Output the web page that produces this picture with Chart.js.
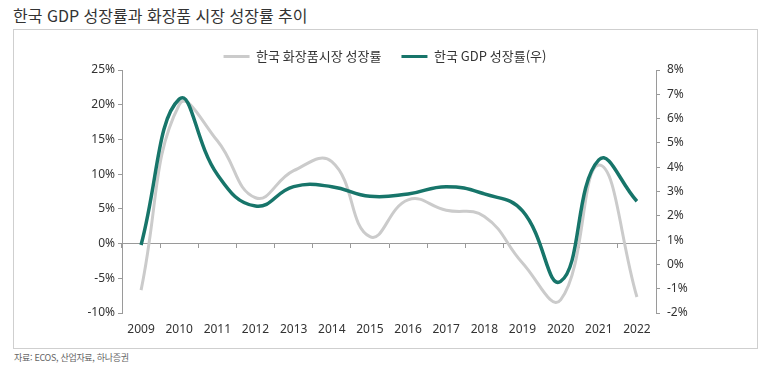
<!DOCTYPE html>
<html lang="ko">
<head>
<meta charset="utf-8">
<script src="https://cdn.jsdelivr.net/npm/chart.js@4"></script>
<style>
  body { margin: 0; background: #fff; }
  #wrap { position: relative; width: 773px; height: 375px; overflow: hidden; }
  #title { position: absolute; left: 13px; top: 3px; font: 16px "Noto Sans CJK KR", sans-serif; color: #333; white-space: nowrap; }
  #box { position: absolute; left: 13px; top: 29px; width: 743px; height: 318px; border: 1px solid #cfcfcf; }
  #source { position: absolute; left: 14px; top: 351px; font: 9px "Noto Sans CJK KR", sans-serif; color: #666; letter-spacing: -0.3px; white-space: nowrap; }
  #chart { position: absolute; left: 0; top: 0; }
</style>
</head>
<body>
<div id="wrap">
  <div id="title">한국 GDP 성장률과 화장품 시장 성장률 추이</div>
  <div id="box"></div>
  <div id="source">자료: ECOS, 산업자료, 하나증권</div>
  <canvas id="chart" width="773" height="375"></canvas>
</div>
<script>
// data
const years = ['2009', '2010', '2011', '2012', '2013', '2014', '2015', '2016', '2017', '2018', '2019', '2020', '2021', '2022'];
const cosmeticsGrowth = [-6.7, 20.0, 14.8, 6.6, 10.5, 11.8, 1.0, 6.3, 4.8, 3.9, -2.8, -8.1, 11.3, -7.7];
const gdpGrowth = [0.8, 6.8, 3.7, 2.4, 3.2, 3.2, 2.8, 2.9, 3.2, 2.9, 2.2, -0.7, 4.3, 2.6];
const seriesNames = ['한국 화장품시장 성장률', '한국 GDP 성장률(우)'];

const axisGray = '#9a9a9a';
const tickFont = { family: '"Noto Sans", sans-serif', size: 12 };

const ctx = document.getElementById('chart').getContext('2d');
new Chart(ctx, {
    type: 'line',
    data: {
        labels: years,
        datasets: [
            {
                label: seriesNames[0],
                data: cosmeticsGrowth,
                borderColor: '#cbcbcb',
                borderWidth: 3,
                tension: 0.45,
                pointRadius: 0,
                xAxisID: 'x',
                yAxisID: 'y',
                order: 1
            },
            {
                label: seriesNames[1],
                data: gdpGrowth,
                borderColor: '#17756a',
                borderWidth: 3.5,
                tension: 0.45,
                pointRadius: 0,
                xAxisID: 'x',
                yAxisID: 'y1',
                order: 0
            }
        ]
    },
    options: {
        responsive: false,
        animation: false,
        // left/right padding shifts the legend centre; axis widths keep the plot in place
        layout: { padding: { left: 40, right: 43, top: 30, bottom: 32 } },
        plugins: {
            tooltip: { enabled: false },
            legend: {
                position: 'top',
                maxHeight: 40,
                labels: {
                    boxWidth: 26,
                    boxHeight: 3,
                    padding: 20,
                    color: '#333',
                    font: { family: '"Noto Sans CJK KR", sans-serif', size: 13 },
                    sort: (a, b) => a.datasetIndex - b.datasetIndex,
                    generateLabels: chart => Chart.defaults.plugins.legend.labels.generateLabels(chart).map(item => {
                        item.fillStyle = item.strokeStyle;
                        item.lineWidth = 0;
                        return item;
                    })
                }
            }
        },
        scales: {
            // zero line with boundary ticks
            x: {
                type: 'category',
                position: { y: 0 },
                offset: true,
                grid: { offset: true, drawOnChartArea: false, drawTicks: true, tickLength: 4, color: axisGray },
                border: { display: true, color: axisGray, width: 1 },
                ticks: { display: false }
            },
            // year labels at the bottom
            x2: {
                type: 'category',
                labels: years,
                position: 'bottom',
                offset: true,
                grid: { display: false },
                border: { display: false },
                ticks: { color: '#333', font: tickFont, padding: 1, autoSkip: false, maxRotation: 0 },
                afterFit: scale => { scale.height = 30; }
            },
            y: {
                position: 'left',
                min: -10,
                max: 25,
                grid: { drawOnChartArea: false, tickLength: 4, color: axisGray },
                border: { display: true, color: axisGray },
                ticks: { stepSize: 5, color: '#333', font: tickFont, padding: 3, callback: v => v + '%' },
                afterFit: scale => { scale.width = 82; }
            },
            y1: {
                position: 'right',
                min: -2,
                max: 8,
                grid: { drawOnChartArea: false, tickLength: 4, color: axisGray },
                border: { display: true, color: axisGray },
                ticks: { stepSize: 1, color: '#333', font: tickFont, padding: 7, callback: v => v + '%' },
                afterFit: scale => { scale.width = 74; }
            }
        }
    }
});
</script>
</body>
</html>
